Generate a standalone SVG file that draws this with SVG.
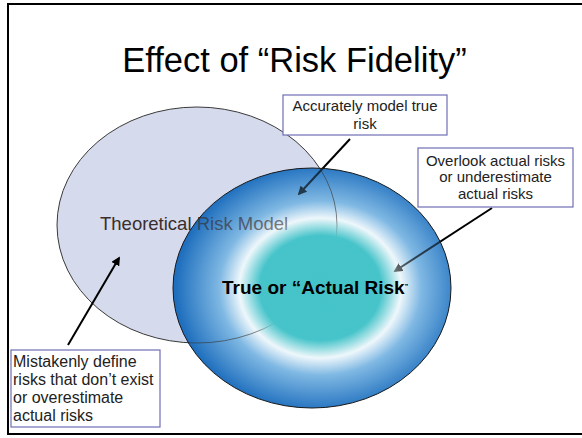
<svg xmlns="http://www.w3.org/2000/svg" width="582" height="438" viewBox="0 0 582 438">
<style>
.box{fill:#fff;stroke:#6E6EB4;stroke-width:1.2}
.lbl{font-family:"Liberation Sans",Arial,sans-serif;font-size:15px;fill:#222}
.lbl3{font-family:"Liberation Sans",Arial,sans-serif;font-size:16px;fill:#222}
.arr{stroke:#000;stroke-width:2;fill:none;marker-end:url(#ah)}
</style>
<defs>
<marker id="ah" viewBox="0 0 10 10" refX="8" refY="5" markerWidth="4.5" markerHeight="4.5" orient="auto" markerUnits="strokeWidth">
<path d="M0,0 L10,5 L0,10 z" fill="#000"/>
</marker>
<radialGradient id="blue" cx="0.53" cy="0.5" r="0.52">
<stop offset="0" stop-color="#44C3C9"/>
<stop offset="0.42" stop-color="#46C4CA"/>
<stop offset="0.56" stop-color="#EEF7FB"/>
<stop offset="0.7" stop-color="#7FB8E3"/>
<stop offset="1" stop-color="#1F6FBE"/>
</radialGradient>
<radialGradient id="blueTint" cx="0.53" cy="0.5" r="0.52">
<stop offset="0" stop-color="#44C3C9" stop-opacity="1"/>
<stop offset="0.42" stop-color="#46C4CA" stop-opacity="1"/>
<stop offset="0.56" stop-color="#EEF7FB" stop-opacity="0.4"/>
<stop offset="0.7" stop-color="#7FB8E3" stop-opacity="0.35"/>
<stop offset="1" stop-color="#1F6FBE" stop-opacity="0.35"/>
</radialGradient>
</defs>
<path id="frame" d="M583,4 H8 V434 H583" fill="#fff" stroke="#000" stroke-width="2"/>
<text id="title" x="294.5" y="72" text-anchor="middle" font-family="'Liberation Sans',Arial,sans-serif" font-size="34.5" fill="#000">Effect of “Risk Fidelity”</text>
<g id="theoretical">
<ellipse cx="197" cy="225" rx="140" ry="118" fill="#D5DAEC"/>
</g>
<g id="actual">
<ellipse cx="312" cy="288" rx="139" ry="120" fill="url(#blue)"/>
</g>
<g id="theoretical-label">
<ellipse cx="197" cy="225" rx="140" ry="118" fill="none" stroke="#3A3A3A" stroke-width="1"/>
<text x="100" y="230" font-family="'Liberation Sans',Arial,sans-serif" font-size="18.5" fill="#3A2E2E">Theoretical Risk Model</text>
</g>
<g id="connectors">
<line class="arr" x1="350" y1="139" x2="299" y2="194"/>
<line class="arr" x1="492" y1="208" x2="395" y2="271"/>
<line class="arr" x1="68" y1="345" x2="119" y2="258"/>
</g>
<g id="actual-label">
<ellipse cx="312" cy="288" rx="139" ry="120" fill="url(#blueTint)" stroke="#1A1A1A" stroke-width="1"/>
<text x="222" y="294" font-family="'Liberation Sans',Arial,sans-serif" font-size="19" font-weight="bold" fill="#000">True or “Actual Risk<tspan font-size="7" dy="-5">”</tspan></text>
</g>
<g id="box-accurate">
<rect class="box" x="283" y="95" width="164" height="40"/>
<text class="lbl" text-anchor="middle" x="365" y="111">Accurately model true</text>
<text class="lbl" text-anchor="middle" x="365" y="129">risk</text>
</g>
<g id="box-overlook">
<rect class="box" x="418" y="148" width="155" height="59"/>
<text class="lbl" text-anchor="middle" x="495.5" y="166">Overlook actual risks</text>
<text class="lbl" text-anchor="middle" x="495.5" y="182">or underestimate</text>
<text class="lbl" text-anchor="middle" x="495.5" y="199">actual risks</text>
</g>
<g id="box-mistaken">
<rect class="box" x="11" y="350" width="149" height="77"/>
<text class="lbl3" x="13" y="367">Mistakenly define</text>
<text class="lbl3" x="13" y="385">risks that don’t exist</text>
<text class="lbl3" x="13" y="403">or overestimate</text>
<text class="lbl3" x="13" y="421">actual risks</text>
</g>
</svg>
